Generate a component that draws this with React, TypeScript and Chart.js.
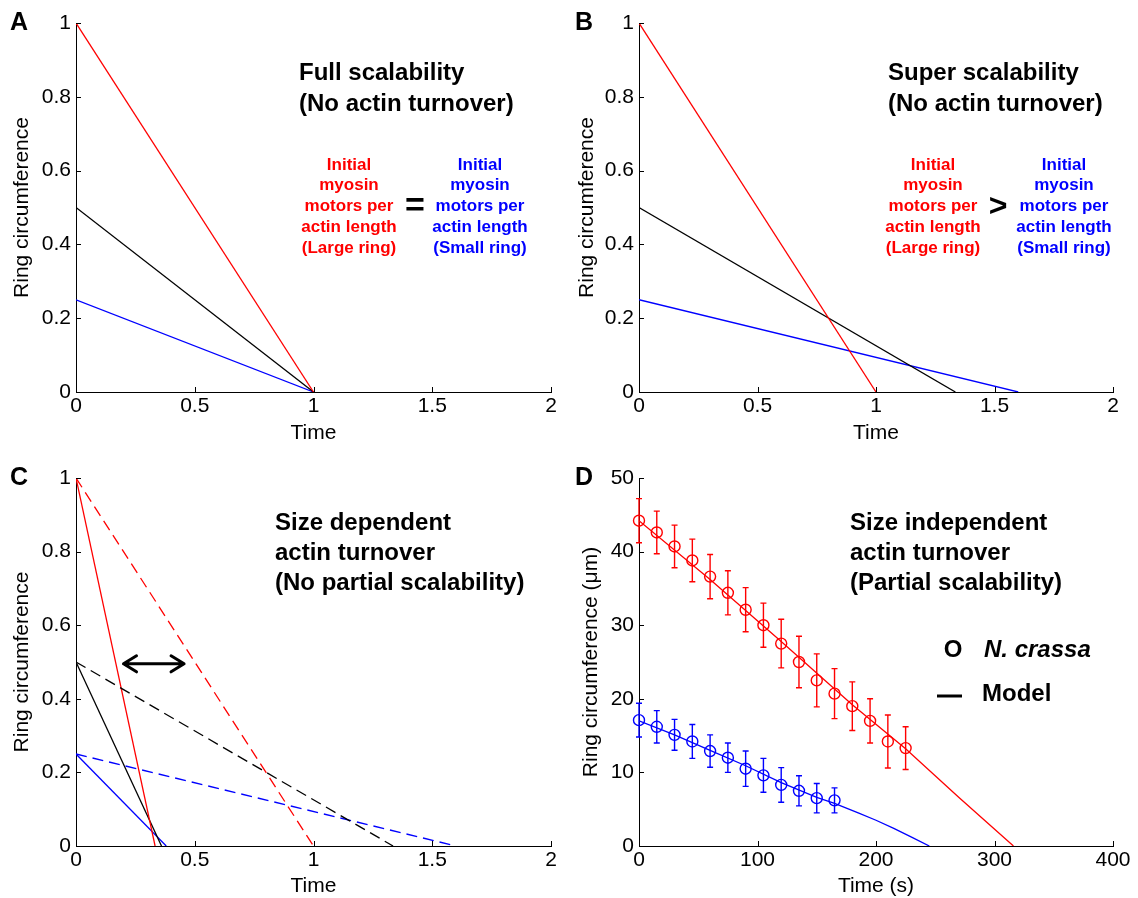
import { useEffect, useRef } from "react";
import { Chart, registerables } from "chart.js";

Chart.register(...registerables);

const SANS = "'Liberation Sans', Arial, Helvetica, sans-serif";
const RED = "#ff0000";
const BLUE = "#0000ff";
const BLACK = "#000000";

// ---------- Panel A: full scalability ----------
const aRedTime = [0, 1];
const aRedCirc = [1, 0];
const aBlackTime = [0, 1];
const aBlackCirc = [0.5, 0];
const aBlueTime = [0, 1];
const aBlueCirc = [0.25, 0];

// ---------- Panel B: super scalability ----------
const bRedTime = [0, 1];
const bRedCirc = [1, 0];
const bBlackTime = [0, 1.335];
const bBlackCirc = [0.5, 0];
const bBlueTime = [0, 1.6];
const bBlueCirc = [0.25, 0];

// ---------- Panel C: size dependent turnover ----------
const cRedSolidTime = [0, 0.333];
const cRedSolidCirc = [1, 0];
const cBlackSolidTime = [0, 0.36];
const cBlackSolidCirc = [0.5, 0];
const cBlueSolidTime = [0, 0.38];
const cBlueSolidCirc = [0.25, 0];
const cRedDashTime = [0, 1];
const cRedDashCirc = [1, 0];
const cBlackDashTime = [0, 1.335];
const cBlackDashCirc = [0.5, 0];
const cBlueDashTime = [0, 1.6];
const cBlueDashCirc = [0.25, 0];
const cArrowTime = [0.2, 0.455];
const cArrowLevel = 0.495;

// ---------- Panel D: N. crassa data and model ----------
const dRedTime = [0, 15, 30, 45, 60, 75, 90, 105, 120, 135, 150, 165, 180, 195, 210, 225];
const dRedMean = [44.2, 42.6, 40.7, 38.8, 36.6, 34.4, 32.1, 30.0, 27.5, 25.0, 22.5, 20.7, 19.0, 17.0, 14.2, 13.3];
const dRedErr = [3.0, 2.9, 2.9, 2.9, 3.0, 3.0, 3.0, 3.0, 3.3, 3.5, 3.6, 3.4, 3.3, 3.0, 3.6, 2.9];
const dBlueTime = [0, 15, 30, 45, 60, 75, 90, 105, 120, 135, 150, 165];
const dBlueMean = [17.1, 16.2, 15.1, 14.2, 12.9, 12.0, 10.5, 9.6, 8.3, 7.5, 6.5, 6.2];
const dBlueErr = [2.3, 2.2, 2.1, 2.3, 2.2, 2.0, 2.4, 2.3, 2.35, 2.05, 2.0, 1.7];
const dRedModelTime = [0, 60, 120, 180, 225, 270, 316];
const dRedModelCirc = [44.2, 36.2, 27.8, 19.2, 13.2, 6.6, 0];
const dBlueModelTime = [0, 30, 60, 90, 120, 150, 165, 185, 200, 215, 230, 245];
const dBlueModelCirc = [17.0, 15.1, 13.0, 10.9, 8.6, 6.6, 5.8, 4.5, 3.5, 2.4, 1.2, 0];

// ---------- tick values ----------
const unitTimeTicks = [0, 0.5, 1, 1.5, 2];
const unitCircTicks = [0, 0.2, 0.4, 0.6, 0.8, 1];
const secTimeTicks = [0, 100, 200, 300, 400];
const umCircTicks = [0, 10, 20, 30, 40, 50];

const largeRingLines = ["Initial", "myosin", "motors per", "actin length", "(Large ring)"];
const smallRingLines = ["Initial", "myosin", "motors per", "actin length", "(Small ring)"];

type Pt = { x: number; y: number };
const pts = (xs: number[], ys: number[]): Pt[] => xs.map((x, i) => ({ x, y: ys[i] }));

interface TextItem {
  text: string;
  x: number;
  y: number;
  font: string;
  color?: string;
  align?: CanvasTextAlign;
}

interface PanelSpec {
  origin: [number, number];
  size: [number, number];
  plot: { left: number; right: number; top: number; bottom: number };
  xTicks: number[];
  yTicks: number[];
  xTitle: string;
  yTitle: string;
  yTitlePad: number;
  xTitlePad: number;
  datasets: any[];
  texts: TextItem[];
  arrow?: { from: number; to: number; level: number };
  legendLine?: { x1: number; x2: number; y: number };
}

const line = (data: Pt[], color: string, dash: number[] = []) => ({
  data,
  showLine: true,
  borderColor: color,
  borderWidth: 1.3,
  borderDash: dash,
  pointRadius: 0,
  tension: 0,
  fill: false,
});

const markers = (data: Pt[], color: string, errors: number[]) => ({
  data,
  showLine: false,
  pointRadius: 5.5,
  pointStyle: "circle",
  pointBorderColor: color,
  pointBackgroundColor: "rgba(0,0,0,0)",
  pointBorderWidth: 1.4,
  borderColor: color,
  clip: false,
  errors,
});

const titleFont = `bold 24px ${SANS}`;
const colorFont = `bold 17px ${SANS}`;
const letterFont = `bold 25px ${SANS}`;

const ringBlock = (lines: string[], cx: number, color: string): TextItem[] =>
  lines.map((t, i) => ({ text: t, x: cx, y: 165 + i * 20.8, font: colorFont, color, align: "center" }));

const panels: PanelSpec[] = [
  {
    origin: [0, 0],
    size: [569, 449],
    plot: { left: 76, right: 551, top: 23, bottom: 392 },
    xTicks: unitTimeTicks,
    yTicks: unitCircTicks,
    xTitle: "Time",
    yTitle: "Ring circumference",
    yTitlePad: 10,
    xTitlePad: 3,
    datasets: [
      line(pts(aRedTime, aRedCirc), RED),
      line(pts(aBlackTime, aBlackCirc), BLACK),
      line(pts(aBlueTime, aBlueCirc), BLUE),
    ],
    texts: [
      { text: "A", x: 10, y: 23, font: letterFont },
      { text: "Full scalability", x: 299, y: 73, font: titleFont },
      { text: "(No actin turnover)", x: 299, y: 104, font: titleFont },
      ...ringBlock(largeRingLines, 349, RED),
      { text: "=", x: 415, y: 207, font: `bold 34px ${SANS}`, align: "center" },
      ...ringBlock(smallRingLines, 480, BLUE),
    ],
  },
  {
    origin: [569, 0],
    size: [569, 449],
    plot: { left: 639, right: 1113, top: 23, bottom: 392 },
    xTicks: unitTimeTicks,
    yTicks: unitCircTicks,
    xTitle: "Time",
    yTitle: "Ring circumference",
    yTitlePad: 6,
    xTitlePad: 3,
    datasets: [
      line(pts(bRedTime, bRedCirc), RED),
      line(pts(bBlackTime, bBlackCirc), BLACK),
      line(pts(bBlueTime, bBlueCirc), BLUE),
    ],
    texts: [
      { text: "B", x: 575, y: 23, font: letterFont },
      { text: "Super scalability", x: 888, y: 73, font: titleFont },
      { text: "(No actin turnover)", x: 888, y: 104, font: titleFont },
      ...ringBlock(largeRingLines, 933, RED),
      { text: ">", x: 998, y: 207, font: `bold 32px ${SANS}`, align: "center" },
      ...ringBlock(smallRingLines, 1064, BLUE),
    ],
  },
  {
    origin: [0, 449],
    size: [569, 449],
    plot: { left: 76, right: 551, top: 478, bottom: 846 },
    xTicks: unitTimeTicks,
    yTicks: unitCircTicks,
    xTitle: "Time",
    yTitle: "Ring circumference",
    yTitlePad: 10,
    xTitlePad: -1,
    datasets: [
      line(pts(cRedDashTime, cRedDashCirc), RED, [11, 6]),
      line(pts(cBlackDashTime, cBlackDashCirc), BLACK, [11, 6]),
      line(pts(cBlueDashTime, cBlueDashCirc), BLUE, [11, 6]),
      line(pts(cRedSolidTime, cRedSolidCirc), RED),
      line(pts(cBlackSolidTime, cBlackSolidCirc), BLACK),
      line(pts(cBlueSolidTime, cBlueSolidCirc), BLUE),
    ],
    texts: [
      { text: "C", x: 10, y: 478, font: letterFont },
      { text: "Size dependent", x: 275, y: 523, font: titleFont },
      { text: "actin turnover", x: 275, y: 553, font: titleFont },
      { text: "(No partial scalability)", x: 275, y: 583, font: titleFont },
    ],
    arrow: { from: cArrowTime[0], to: cArrowTime[1], level: cArrowLevel },
  },
  {
    origin: [569, 449],
    size: [569, 449],
    plot: { left: 639, right: 1113, top: 478, bottom: 846 },
    xTicks: secTimeTicks,
    yTicks: umCircTicks,
    xTitle: "Time (s)",
    yTitle: "Ring circumference (\u03bcm)",
    yTitlePad: 10,
    xTitlePad: -1,
    datasets: [
      line(pts(dRedModelTime, dRedModelCirc), RED),
      line(pts(dBlueModelTime, dBlueModelCirc), BLUE),
      markers(pts(dRedTime, dRedMean), RED, dRedErr),
      markers(pts(dBlueTime, dBlueMean), BLUE, dBlueErr),
    ],
    texts: [
      { text: "D", x: 575, y: 478, font: letterFont },
      { text: "Size independent", x: 850, y: 523, font: titleFont },
      { text: "actin turnover", x: 850, y: 553, font: titleFont },
      { text: "(Partial scalability)", x: 850, y: 583, font: titleFont },
      { text: "O", x: 953, y: 650, font: `bold 24px ${SANS}`, align: "center" },
      { text: "N. crassa", x: 984, y: 650, font: `italic bold 24px ${SANS}` },
      { text: "Model", x: 982, y: 694, font: `bold 24px ${SANS}` },
    ],
    legendLine: { x1: 937, x2: 962, y: 696 },
  },
];

const decorPlugin = (spec: PanelSpec) => ({
  id: "panelDecor",
  beforeDatasetsDraw(chart: any) {
    const ctx = chart.ctx;
    const xs = chart.scales.x;
    const ys = chart.scales.y;
    ctx.save();
    chart.data.datasets.forEach((ds: any) => {
      if (!ds.errors) return;
      ctx.strokeStyle = ds.borderColor;
      ctx.lineWidth = 1.4;
      ctx.beginPath();
      ds.data.forEach((p: Pt, i: number) => {
        const e = ds.errors[i];
        const px = xs.getPixelForValue(p.x);
        const top = ys.getPixelForValue(p.y + e);
        const bot = ys.getPixelForValue(p.y - e);
        ctx.moveTo(px, top);
        ctx.lineTo(px, bot);
        ctx.moveTo(px - 3, top);
        ctx.lineTo(px + 3, top);
        ctx.moveTo(px - 3, bot);
        ctx.lineTo(px + 3, bot);
      });
      ctx.stroke();
    });
    ctx.restore();
  },
  afterDraw(chart: any) {
    const ctx = chart.ctx;
    const xs = chart.scales.x;
    const ys = chart.scales.y;
    const { left, bottom } = chart.chartArea;
    const [ox, oy] = spec.origin;
    ctx.save();
    // inward tick marks
    ctx.strokeStyle = BLACK;
    ctx.lineWidth = 1;
    ctx.beginPath();
    spec.xTicks.forEach((v) => {
      const p = Math.round(xs.getPixelForValue(v)) + 0.5;
      ctx.moveTo(p, bottom);
      ctx.lineTo(p, bottom - 5);
    });
    spec.yTicks.forEach((v) => {
      const p = Math.round(ys.getPixelForValue(v)) + 0.5;
      ctx.moveTo(left, p);
      ctx.lineTo(left + 5, p);
    });
    ctx.stroke();
    // annotation texts
    ctx.textBaseline = "middle";
    spec.texts.forEach((t) => {
      ctx.font = t.font;
      ctx.fillStyle = t.color || BLACK;
      ctx.textAlign = t.align || "left";
      ctx.fillText(t.text, t.x - ox, t.y - oy);
    });
    // double-headed arrow
    if (spec.arrow) {
      const x1 = xs.getPixelForValue(spec.arrow.from);
      const x2 = xs.getPixelForValue(spec.arrow.to);
      const y = ys.getPixelForValue(spec.arrow.level);
      ctx.strokeStyle = BLACK;
      ctx.lineWidth = 3;
      ctx.lineCap = "round";
      ctx.lineJoin = "round";
      ctx.beginPath();
      ctx.moveTo(x1, y);
      ctx.lineTo(x2, y);
      ctx.moveTo(x1 + 13, y - 8);
      ctx.lineTo(x1, y);
      ctx.lineTo(x1 + 13, y + 8);
      ctx.moveTo(x2 - 13, y - 8);
      ctx.lineTo(x2, y);
      ctx.lineTo(x2 - 13, y + 8);
      ctx.stroke();
    }
    if (spec.legendLine) {
      const l = spec.legendLine;
      ctx.strokeStyle = BLACK;
      ctx.lineWidth = 3;
      ctx.beginPath();
      ctx.moveTo(l.x1 - ox, l.y - oy);
      ctx.lineTo(l.x2 - ox, l.y - oy);
      ctx.stroke();
    }
    ctx.restore();
  },
});

function Panel({ spec }: { spec: PanelSpec }) {
  const ref = useRef<HTMLCanvasElement | null>(null);
  useEffect(() => {
    if (!ref.current) return;
    const [ox, oy] = spec.origin;
    const [w, h] = spec.size;
    const yWidth = spec.plot.left - ox;
    const xHeight = oy + h - spec.plot.bottom;
    const padTop = spec.plot.top - oy;
    const padRight = ox + w - spec.plot.right;
    const tickFont = { family: SANS, size: 21 };
    const fmt = (v: any) => String(+Number(v).toFixed(2));
    const chart = new Chart(ref.current, {
      type: "scatter",
      data: { datasets: spec.datasets },
      options: {
        animation: false,
        responsive: false,
        devicePixelRatio: 1,
        events: [],
        layout: { padding: { left: 0, top: padTop, right: padRight, bottom: 0 } },
        plugins: { legend: { display: false }, tooltip: { enabled: false } },
        scales: {
          x: {
            type: "linear",
            min: spec.xTicks[0],
            max: spec.xTicks[spec.xTicks.length - 1],
            afterBuildTicks: (s: any) => {
              s.ticks = spec.xTicks.map((v) => ({ value: v }));
            },
            afterFit: (s: any) => {
              s.height = xHeight;
            },
            ticks: { font: tickFont, color: BLACK, padding: 2, maxRotation: 0, autoSkip: false, callback: fmt },
            grid: { display: false, drawTicks: false },
            border: { display: true, color: BLACK, width: 1 },
            title: {
              display: true,
              text: spec.xTitle,
              color: BLACK,
              font: { family: SANS, size: 21 },
              padding: { top: 0, bottom: spec.xTitlePad },
            },
          },
          y: {
            type: "linear",
            min: spec.yTicks[0],
            max: spec.yTicks[spec.yTicks.length - 1],
            afterBuildTicks: (s: any) => {
              s.ticks = spec.yTicks.map((v) => ({ value: v }));
            },
            afterFit: (s: any) => {
              s.width = yWidth;
            },
            ticks: { font: tickFont, color: BLACK, padding: 5, autoSkip: false, callback: fmt },
            grid: { display: false, drawTicks: false },
            border: { display: true, color: BLACK, width: 1 },
            title: {
              display: true,
              text: spec.yTitle,
              color: BLACK,
              font: { family: SANS, size: 21 },
              padding: { top: spec.yTitlePad, bottom: 0 },
            },
          },
        },
      } as any,
      plugins: [decorPlugin(spec)],
    });
    return () => chart.destroy();
  }, [spec]);
  return (
    <canvas
      ref={ref}
      width={spec.size[0]}
      height={spec.size[1]}
      style={{
        position: "absolute",
        left: spec.origin[0],
        top: spec.origin[1],
        width: spec.size[0],
        height: spec.size[1],
        display: "block",
      }}
    />
  );
}

export default function App() {
  return (
    <div
      style={{
        position: "absolute",
        left: 0,
        top: 0,
        width: 1138,
        height: 898,
        background: "#ffffff",
        overflow: "hidden",
      }}
    >
      {panels.map((p, i) => (
        <Panel key={i} spec={p} />
      ))}
    </div>
  );
}
